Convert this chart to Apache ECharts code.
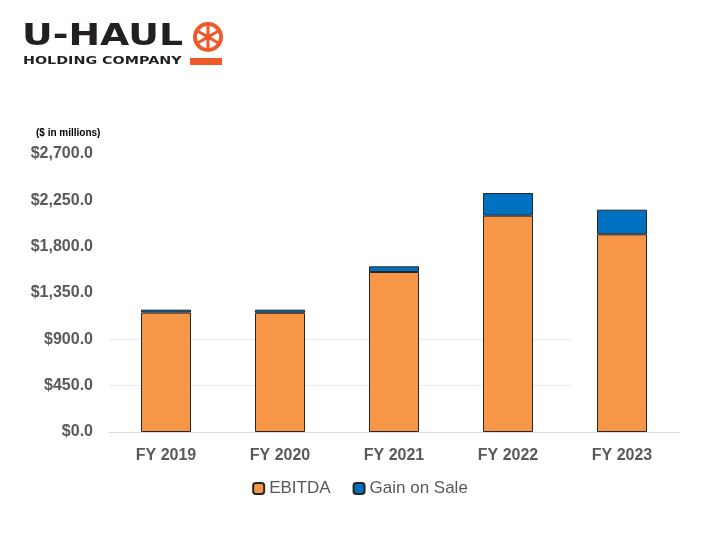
<!DOCTYPE html>
<html>
<head>
<meta charset="utf-8">
<script src="https://cdn.jsdelivr.net/npm/echarts@6/dist/echarts.min.js"></script>
<style>
  html, body { margin: 0; padding: 0; background: #fff; }
  #chart { width: 720px; height: 540px; }
</style>
</head>
<body>
<div id="chart"></div>
<script>
// data ($ in millions)
const years = ['FY 2019', 'FY 2020', 'FY 2021', 'FY 2022', 'FY 2023']
const ebitda = [1160, 1158, 1554, 2101, 1920]
const gainOnSale = [28, 30, 55, 220, 239]
const yTicks = { min: 0, max: 2700, step: 450 }

const chart = echarts.init(document.getElementById('chart'))

const fmtMoney = v => '$' + v.toLocaleString('en-US', { minimumFractionDigits: 1, maximumFractionDigits: 1 })

// logo wheel spokes
const spokes = []
for (let i = 0; i < 6; i++) {
  const a = Math.PI / 6 + i * Math.PI / 3
  spokes.push({
    type: 'line',
    shape: { x1: 208, y1: 37, x2: 208 + Math.cos(a) * 12, y2: 37 + Math.sin(a) * 12 },
    style: { stroke: '#f0592a', lineWidth: 3 }
  })
}

chart.setOption({
  animation: false,
  title: {
    text: '($ in millions)',
    left: 31,
    top: 123,
    textStyle: { fontFamily: 'Liberation Sans', fontSize: 10, fontWeight: 'bold', color: '#000' }
  },
  graphic: [
    {
      type: 'text', left: 22, top: 21, scaleX: 1.22,
      style: { text: 'U-HAUL', font: 'bold 31px "DejaVu Sans"', fill: '#231f20' }
    },
    { type: 'circle', shape: { cx: 208, cy: 37, r: 15 }, style: { fill: '#f0592a' } },
    { type: 'circle', shape: { cx: 208, cy: 37, r: 11 }, style: { fill: '#fff' } },
    ...spokes,
    { type: 'circle', shape: { cx: 208, cy: 37, r: 3.5 }, style: { fill: '#f0592a' } },
    {
      type: 'text', left: 23, top: 56, scaleX: 1.3,
      style: { text: 'HOLDING COMPANY', font: 'bold 11px "DejaVu Sans"', fill: '#231f20' }
    },
    { type: 'rect', shape: { x: 190, y: 58, width: 32, height: 7 }, style: { fill: '#f0592a' } }
  ],
  legend: {
    bottom: 38,
    left: 'center',
    itemWidth: 11,
    itemHeight: 11,
    itemGap: 22,
    textStyle: { fontFamily: 'Liberation Sans', fontSize: 17, color: '#595959' },
    data: ['EBITDA', 'Gain on Sale']
  },
  grid: { left: 109, right: 41, top: 154, bottom: 108 },
  xAxis: {
    type: 'category',
    data: years,
    axisLine: { lineStyle: { color: '#d9d9d9', width: 1 } },
    axisTick: { show: false },
    axisLabel: {
      margin: 16,
      fontFamily: 'Liberation Sans', fontSize: 16, fontWeight: 'bold', color: '#595959'
    }
  },
  yAxis: {
    type: 'value',
    min: yTicks.min,
    max: yTicks.max,
    interval: yTicks.step,
    splitLine: { show: false },
    axisLabel: {
      margin: 16,
      formatter: fmtMoney,
      fontFamily: 'Liberation Sans', fontSize: 16, fontWeight: 'bold', color: '#595959'
    }
  },
  series: [
    {
      // faint partial gridlines behind the bars
      name: 'grid',
      type: 'line',
      data: [],
      z: 0,
      markLine: {
        z: 0,
        silent: true,
        symbol: 'none',
        label: { show: false },
        lineStyle: { color: '#ececec', type: 'solid', width: 1 },
        data: [
          [{ x: 109, yAxis: 450 }, { x: 572, yAxis: 450 }],
          [{ x: 109, yAxis: 900 }, { x: 572, yAxis: 900 }]
        ]
      }
    },
    {
      name: 'EBITDA',
      type: 'bar',
      stack: 'total',
      barWidth: 50,
      z: 3,
      data: ebitda,
      itemStyle: { color: '#f79646', borderColor: '#262626', borderWidth: 1 }
    },
    {
      name: 'Gain on Sale',
      type: 'bar',
      stack: 'total',
      barWidth: 50,
      z: 3,
      data: gainOnSale,
      itemStyle: { color: '#0070c0', borderColor: '#262626', borderWidth: 1 }
    }
  ]
})
</script>
</body>
</html>
